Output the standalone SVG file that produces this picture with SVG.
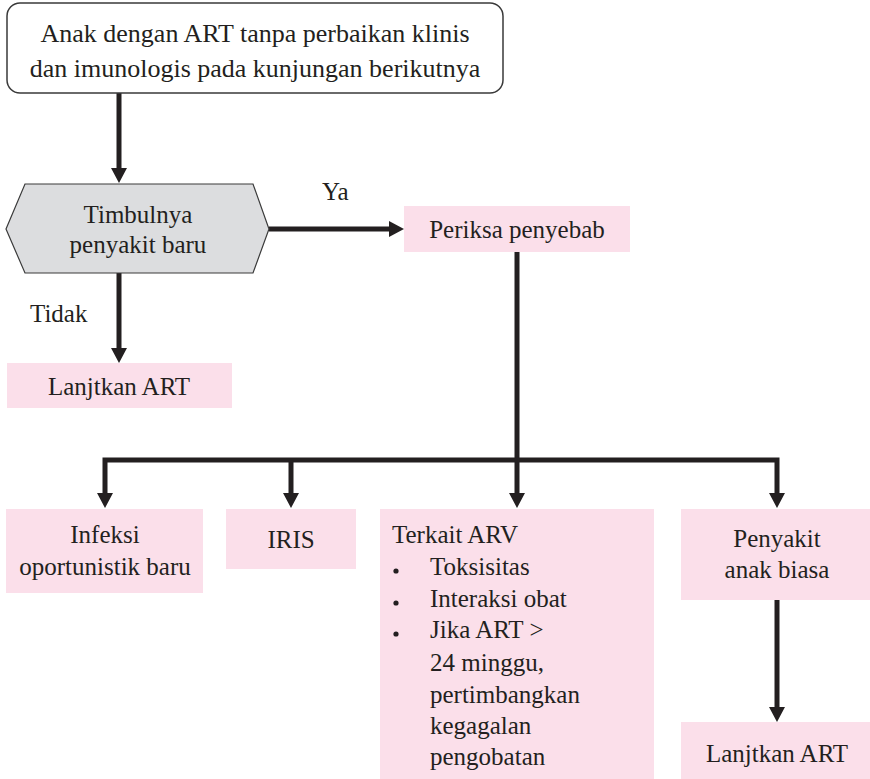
<svg xmlns="http://www.w3.org/2000/svg" width="870" height="779" viewBox="0 0 870 779">
  <style>
    text { font-family: 'Liberation Serif', 'DejaVu Serif', serif; font-size: 25px; fill: #231f20; }
    .c { text-anchor: middle; }
    .lead { font-size: 26px; }
    .box { fill: #fbdfea; }
    .wire { fill: none; stroke: #231f20; stroke-width: 5; }
    .dot { fill: #231f20; }
  </style>
  <defs>
    <marker id="arrow" markerUnits="userSpaceOnUse" markerWidth="16" markerHeight="18" refX="6" refY="9" orient="auto-start-reverse">
      <path d="M0,1 L15,9 L0,17 z" fill="#231f20"/>
    </marker>
  </defs>

  <rect width="870" height="779" fill="#ffffff"/>

  <!-- connectors -->
  <g id="connectors">
    <path class="wire" d="M119,93 V174" marker-end="url(#arrow)"/>
    <path class="wire" d="M269,229 H395" marker-end="url(#arrow)"/>
    <path class="wire" d="M119,273 V354" marker-end="url(#arrow)"/>
    <path class="wire" d="M517,252 V499" marker-end="url(#arrow)"/>
    <path class="wire" d="M105,499 V460 H777 V499" stroke-linejoin="miter" marker-start="url(#arrow)" marker-end="url(#arrow)"/>
    <path class="wire" d="M291,460 V499" marker-end="url(#arrow)"/>
    <path class="wire" d="M777,600 V713" marker-end="url(#arrow)"/>
    <text x="322" y="200">Ya</text>
    <text x="30" y="322">Tidak</text>
  </g>

  <!-- start -->
  <g id="start">
    <rect x="7" y="3" width="496" height="90" rx="13" fill="#ffffff" stroke="#3a3a3a" stroke-width="1.5"/>
    <text class="c lead" x="255" y="42">Anak dengan ART tanpa perbaikan klinis</text>
    <text class="c lead" x="255" y="77">dan imunologis pada kunjungan berikutnya</text>
  </g>

  <!-- decision -->
  <g id="decision">
    <polygon points="6,229 25,184 253,184 269,229 253,273 25,273" fill="#dcdddf" stroke="#3a3a3a" stroke-width="1.2"/>
    <text class="c" x="138" y="223">Timbulnya</text>
    <text class="c" x="138" y="253">penyakit baru</text>
  </g>

  <g id="continue-art-1">
    <rect class="box" x="7" y="363" width="225" height="45"/>
    <text class="c" x="119" y="395">Lanjtkan ART</text>
  </g>

  <g id="check-cause">
    <rect class="box" x="404" y="206" width="226" height="46"/>
    <text class="c" x="517" y="238">Periksa penyebab</text>
  </g>

  <g id="new-oi">
    <rect class="box" x="6" y="509" width="197" height="84"/>
    <text class="c" x="105" y="543">Infeksi</text>
    <text class="c" x="105" y="575">oportunistik baru</text>
  </g>

  <g id="iris">
    <rect class="box" x="226" y="509" width="130" height="60"/>
    <text class="c" x="291" y="548">IRIS</text>
  </g>

  <g id="arv-related">
    <rect class="box" x="380" y="509" width="274" height="270"/>
    <text x="392" y="543">Terkait ARV</text>
    <circle class="dot" cx="396" cy="571" r="2.6"/>
    <circle class="dot" cx="396" cy="603" r="2.6"/>
    <circle class="dot" cx="396" cy="634" r="2.6"/>
    <text x="430" y="575">Toksisitas</text>
    <text x="430" y="607">Interaksi obat</text>
    <text x="430" y="638">Jika ART &gt;</text>
    <text x="430" y="671">24 minggu,</text>
    <text x="430" y="703">pertimbangkan</text>
    <text x="430" y="734">kegagalan</text>
    <text x="430" y="765">pengobatan</text>
  </g>

  <g id="common-illness">
    <rect class="box" x="681" y="509" width="189" height="91"/>
    <text class="c" x="777" y="547">Penyakit</text>
    <text class="c" x="777" y="578">anak biasa</text>
  </g>

  <g id="continue-art-2">
    <rect class="box" x="681" y="722" width="189" height="57"/>
    <text class="c" x="777" y="762">Lanjtkan ART</text>
  </g>
</svg>
